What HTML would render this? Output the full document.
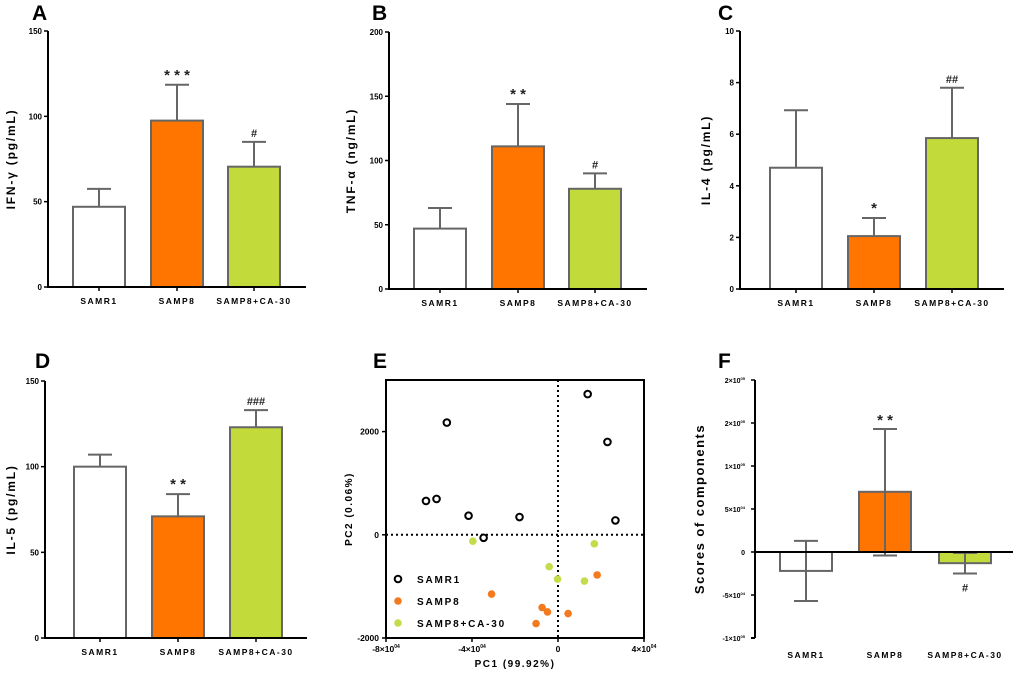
<!DOCTYPE html>
<html><head><meta charset="utf-8"><style>
body{margin:0;background:#fff;width:1020px;height:684px;overflow:hidden}
svg{font-family:"Liberation Sans",Arial,sans-serif}
</style></head><body>
<svg id="fig" width="1020" height="684" xmlns="http://www.w3.org/2000/svg"></svg>
<script>
const categories=["SAMR1","SAMP8","SAMP8+CA-30"];
const colors=["#ffffff","#ff7500","#c2da3a"];
const aMeans=[47,97.5,70.5], aErr=[57.5,118.5,85], aSig=["","* * *","#"], aTicks=[0,50,100,150];
const bMeans=[47,111,78], bErr=[63,144,90], bSig=["","* *","#"], bTicks=[0,50,100,150,200];
const cMeans=[4.7,2.05,5.85], cErr=[6.93,2.75,7.8], cSig=["","*","##"], cTicks=[0,2,4,6,8,10];
const dMeans=[100,71,123], dErr=[107,84,133], dSigAll=["","* *","###"], dTicks=[0,50,100,150];
const fMeans=[-22000,70000,-13000], fErrHi=[13000,143000,-1000], fErrLo=[-57000,-4000,-25000];
const fTicks=[-100000,-50000,0,50000,100000,150000,200000];
const fTickLabels=["-1×10","-5×10","0","5×10","1×10","2×10","2×10"];
const fTickExp=["05","04","","04","05","05","05"];
const samr1X=[-61400,-56500,-51700,-41600,-34600,-17900,13800,23000,26700];
const samr1Y=[656,695,2175,370,-58,344,2727,1799,279];
const samp8X=[-30900,-7400,-4900,-10200,4700,18200];
const samp8Y=[-1149,-1409,-1494,-1721,-1526,-779];
const caX=[-39600,-4100,-200,12300,16900];
const caY=[-123,-617,-857,-896,-175];

const NS="http://www.w3.org/2000/svg";
const svg=document.getElementById('fig');
function mk(tag,attrs,parent){const e=document.createElementNS(NS,tag);for(const k in attrs)e.setAttribute(k,attrs[k]);(parent||svg).appendChild(e);return e;}
function txt(s,attrs,parent){const e=mk('text',attrs,parent);e.textContent=s;return e;}

function barChart(p){
  const g=mk('g',{});
  
  
  const y=v=>p.y0-(v-p.vmin)/(p.vmax-p.vmin)*(p.y0-p.ytop);
  const L=txt(p.letter,{x:p.lx,y:p.ly,'font-size':21,'font-weight':'bold'},g);
  
  
  p.ticks.forEach(t=>{
    mk('line',{x1:p.ax-4,x2:p.ax,y1:y(t),y2:y(t),stroke:'#000','stroke-width':1.5},g);
    const tl=txt(String(t),{x:p.ax-6,y:y(t)+3,'font-size':8,'font-weight':'bold','text-anchor':'end'},g);
    
    
  });
  categories.forEach((c,i)=>{
    const x1=p.bx[i],x2=x1+52,cx=(x1+x2)/2;
    const yt=y(p.means[i]),yb=y(0);
    mk('line',{x1:cx,x2:cx,y1:yt,y2:y(p.err[i]),stroke:'#666','stroke-width':2},g);
    mk('line',{x1:cx-12,x2:cx+12,y1:y(p.err[i]),y2:y(p.err[i]),stroke:'#666','stroke-width':2},g);
    const r=mk('rect',{x:x1,y:yt,width:52,height:yb-yt,fill:colors[i],stroke:'#666','stroke-width':2},g);
    
    
    if(p.sig[i]){const s=txt(p.sig[i],{x:cx,y:y(p.err[i])-5,'font-size':p.sig[i].includes('*')?15:11,'font-weight':'bold','text-anchor':'middle','fill':'#222'},g);
      
      }
    mk('line',{x1:cx,x2:cx,y1:p.y0,y2:p.y0+4,stroke:'#000','stroke-width':1.5},g);
    const xl=txt(c,{x:cx,y:p.y0+17,'font-size':8.5,'font-weight':'bold','text-anchor':'middle','letter-spacing':'1.5'},g);
    
    
  });
  mk('line',{x1:p.ax,x2:p.ax,y1:p.ytop,y2:p.y0+1,stroke:'#000','stroke-width':2},g);
  mk('line',{x1:p.ax,x2:p.xend,y1:p.y0,y2:p.y0,stroke:'#000','stroke-width':2},g);
  const yt=txt(p.title,{x:0,y:0,'font-size':12,'font-weight':'bold','text-anchor':'middle','letter-spacing':'1.8',transform:`translate(${p.tx},${(p.ytop+p.y0)/2}) rotate(-90)`},g);
  
  
}
barChart({name:'panel-a-ifn-gamma',letter:'A',lx:32,ly:20,ax:48,ytop:31,y0:287,xend:306,vmin:0,vmax:150,ticks:aTicks,bx:[73,151,228],means:aMeans,err:aErr,sig:aSig,title:'IFN-γ (pg/mL)',tx:15});
barChart({name:'panel-b-tnf-alpha',letter:'B',lx:372,ly:20,ax:389,ytop:32,y0:289,xend:647,vmin:0,vmax:200,ticks:bTicks,bx:[414,492,569],means:bMeans,err:bErr,sig:bSig,title:'TNF-α (ng/mL)',tx:355});
barChart({name:'panel-c-il4',letter:'C',lx:718,ly:20,ax:740,ytop:31,y0:289,xend:1004,vmin:0,vmax:10,ticks:cTicks,bx:[770,848,926],means:cMeans,err:cErr,sig:cSig,title:'IL-4 (pg/mL)',tx:710});
barChart({name:'panel-d-il5',letter:'D',lx:35,ly:368,ax:45,ytop:381,y0:638,xend:307,vmin:0,vmax:150,ticks:dTicks,bx:[74,152,230],means:dMeans,err:dErr,sig:dSigAll,title:'IL-5 (pg/mL)',tx:15});

// Panel E scatter
(function(){
  const g=mk('g',{});
  
  
  const X0=386,X1=644,Y0=638,Y1=380;
  const xs=v=>X0+(v+80000)/120000*(X1-X0);
  const ys=v=>Y0-(v+2000)/5000*(Y0-Y1);
  const L=txt('E',{x:373,y:368,'font-size':21,'font-weight':'bold'},g);
  
  
  mk('rect',{x:X0,y:Y1,width:X1-X0,height:Y0-Y1,fill:'none',stroke:'#000','stroke-width':2},g);
  mk('line',{x1:X0,x2:X1,y1:ys(0),y2:ys(0),stroke:'#000','stroke-width':2,'stroke-dasharray':'2,3'},g);
  mk('line',{x1:xs(0),x2:xs(0),y1:Y1,y2:Y0,stroke:'#000','stroke-width':2,'stroke-dasharray':'2,3'},g);
  [-2000,0,2000].forEach(t=>{mk('line',{x1:X0-4,x2:X0,y1:ys(t),y2:ys(t),stroke:'#000','stroke-width':1.5},g);
    const tl=txt(String(t),{x:X0-7,y:ys(t)+3,'font-size':8.5,'font-weight':'bold','text-anchor':'end'},g);
    
    });
  [[-80000,'-8×10'],[-40000,'-4×10'],[0,'0'],[40000,'4×10']].forEach(([t,s])=>{
    mk('line',{x1:xs(t),x2:xs(t),y1:Y0,y2:Y0+4,stroke:'#000','stroke-width':1.5},g);
    const tl=txt(s,{x:xs(t),y:Y0+14,'font-size':8.5,'font-weight':'bold','text-anchor':'middle'},g);
    
    
    if(t!==0){const sp=mk('tspan',{'font-size':5,dy:-4},tl);sp.textContent='04';}
  });
  const xt=txt('PC1 (99.92%)',{x:(X0+X1)/2,y:667,'font-size':10,'font-weight':'bold','text-anchor':'middle','letter-spacing':'1.5'},g);
  
  
  const yt=txt('PC2 (0.06%)',{x:0,y:0,'font-size':10,'font-weight':'bold','text-anchor':'middle','letter-spacing':'1.5',transform:`translate(352,${(Y0+Y1)/2}) rotate(-90)`},g);
  
  
  samr1X.forEach((v,i)=>{const c=mk('circle',{cx:xs(v),cy:ys(samr1Y[i]),r:3.3,fill:'#fff',stroke:'#000','stroke-width':2},g);
    
    });
  samp8X.forEach((v,i)=>{const c=mk('circle',{cx:xs(v),cy:ys(samp8Y[i]),r:3.8,fill:'#f47a20'},g);
    
    });
  caX.forEach((v,i)=>{const c=mk('circle',{cx:xs(v),cy:ys(caY[i]),r:3.8,fill:'#c5dc4a'},g);
    
    });
  const leg=[['SAMR1',579],['SAMP8',601],['SAMP8+CA-30',623]];
  leg.forEach(([s,yy],i)=>{
    const lg=mk('g',{},g);
    
    
    if(i==0)mk('circle',{cx:398,cy:yy,r:3.3,fill:'#fff',stroke:'#000','stroke-width':2},lg);
    else mk('circle',{cx:398,cy:yy,r:3.8,fill:i==1?'#f47a20':'#c5dc4a'},lg);
    txt(s,{x:417,y:yy+4,'font-size':10,'font-weight':'bold','letter-spacing':'1.8'},lg);
  });
})();

// Panel F
(function(){
  const g=mk('g',{});
  
  
  const ax=755,ytop=380,ybot=638;
  const y=v=>ybot-(v+100000)/300000*(ybot-ytop);
  const L=txt('F',{x:718,y:368,'font-size':21,'font-weight':'bold'},g);
  
  
  fTicks.forEach((t,i)=>{mk('line',{x1:ax-4,x2:ax,y1:y(t),y2:y(t),stroke:'#000','stroke-width':1.5},g);
    const tl=txt(fTickLabels[i],{x:ax-10,y:y(t)+3,'font-size':7,'font-weight':'bold','text-anchor':'end'},g);
    
    
    if(fTickExp[i]){const sp=mk('tspan',{'font-size':4,dy:-3},tl);sp.textContent=fTickExp[i];}});
  const bx=[780,859,939];
  categories.forEach((c,i)=>{
    const x1=bx[i],cx=x1+26,ym=y(fMeans[i]),y0=y(0);
    const r=mk('rect',{x:x1,y:Math.min(ym,y0),width:52,height:Math.abs(ym-y0),fill:colors[i],stroke:'#666','stroke-width':2},g);
    
    
    mk('line',{x1:cx,x2:cx,y1:y(fErrLo[i]),y2:y(fErrHi[i]),stroke:'#666','stroke-width':2},g);
    [fErrLo[i],fErrHi[i]].forEach(e=>mk('line',{x1:cx-12,x2:cx+12,y1:y(e),y2:y(e),stroke:'#666','stroke-width':2},g));
    const xl=txt(c,{x:cx,y:ybot+20,'font-size':8.5,'font-weight':'bold','text-anchor':'middle','letter-spacing':'1.5'},g);
    
    
  });
  const s1=txt('* *',{x:885,y:y(fErrHi[1])-4,'font-size':15,'font-weight':'bold','text-anchor':'middle','fill':'#222'},g);
  
  
  const s2=txt('#',{x:965,y:y(fErrLo[2])+18,'font-size':11,'font-weight':'bold','text-anchor':'middle','fill':'#222'},g);
  
  
  mk('line',{x1:ax,x2:ax,y1:ytop,y2:ybot,stroke:'#000','stroke-width':2},g);
  mk('line',{x1:ax-4,x2:ax,y1:ybot,y2:ybot,stroke:'#000','stroke-width':2},g);
  mk('line',{x1:ax,x2:1013,y1:y(0),y2:y(0),stroke:'#000','stroke-width':2},g);
  const yt=txt('Scores of components',{x:0,y:0,'font-size':13,'font-weight':'bold','text-anchor':'middle','letter-spacing':'1.5',transform:`translate(704,${(ytop+ybot)/2}) rotate(-90)`},g);
  
  
})();
</script>
</body></html>
